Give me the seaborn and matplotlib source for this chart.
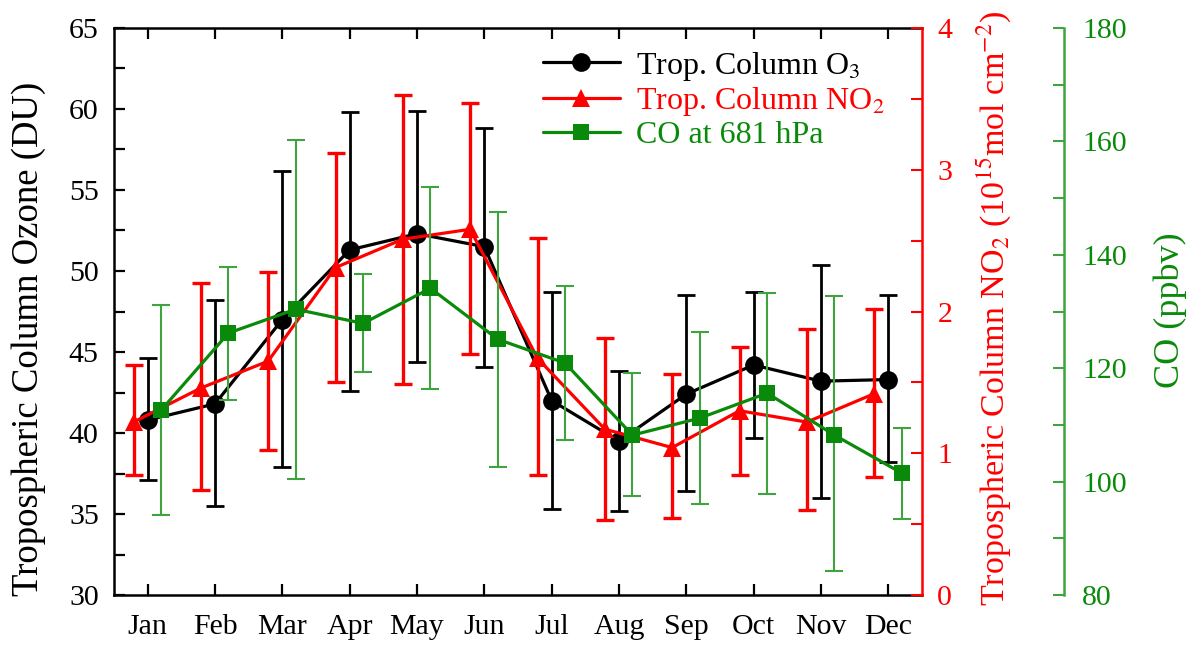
import numpy as np
import pandas as pd
import matplotlib
matplotlib.use("Agg")
import matplotlib.pyplot as plt
from matplotlib.ticker import MultipleLocator
import seaborn as sns

# Monthly climatology: tropospheric O3 column, tropospheric NO2 column, CO at 681 hPa
months = ["Jan", "Feb", "Mar", "Apr", "May", "Jun",
          "Jul", "Aug", "Sep", "Oct", "Nov", "Dec"]

o3_mean = [40.8, 41.8, 47.0, 51.3, 52.3, 51.5, 42.0, 39.5, 42.4, 44.2, 43.2, 43.3]
o3_low = [37.1, 35.5, 37.9, 42.6, 44.4, 44.1, 35.3, 35.2, 36.4, 39.7, 36.0, 38.2]
o3_high = [44.6, 48.2, 56.2, 59.8, 59.9, 58.8, 48.7, 43.8, 48.5, 48.7, 50.4, 48.5]

no2_mean = [1.22, 1.46, 1.65, 2.31, 2.51, 2.58, 1.67, 1.17, 1.04, 1.30, 1.22, 1.42]
no2_low = [0.85, 0.74, 1.02, 1.50, 1.49, 1.70, 0.85, 0.53, 0.54, 0.85, 0.60, 0.83]
no2_high = [1.62, 2.20, 2.28, 3.12, 3.53, 3.47, 2.52, 1.81, 1.56, 1.75, 1.88, 2.02]

co_mean = [112.6, 126.2, 130.4, 127.9, 134.1, 125.1, 120.9, 108.2, 111.2, 115.6, 108.2, 101.5]
co_low = [94.1, 114.4, 100.4, 119.3, 116.3, 102.5, 107.3, 97.5, 96.0, 97.8, 84.3, 93.4]
co_high = [131.1, 137.9, 160.2, 136.7, 152.0, 147.5, 134.5, 119.1, 126.4, 133.3, 132.8, 109.5]

labels = ["Trop. Column O$_3$", "Trop. Column NO$_2$", "CO at 681 hPa"]

BLACK = "#000000"
RED = "#ff0000"
GREEN = "#0a8a0a"
GREEN_LIGHT = "#3fa33f"

sns.set_theme(style="ticks")
plt.rcParams["font.family"] = ["Liberation Serif", "DejaVu Serif"]
plt.rcParams["mathtext.fontset"] = "stix"

month_num = np.arange(1, 13)
df = pd.DataFrame({
    "month": month_num,
    "o3": o3_mean, "o3_lo": o3_low, "o3_hi": o3_high,
    "no2": no2_mean, "no2_lo": no2_low, "no2_hi": no2_high,
    "co": co_mean, "co_lo": co_low, "co_hi": co_high,
})
df["x_o3"] = df["month"]
df["x_no2"] = df["month"] - 0.21
df["x_co"] = df["month"] + 0.20

fig = plt.figure(figsize=(11.86, 6.46), dpi=100)
ax = fig.add_axes([0.0961, 0.0789, 0.6813, 0.8778])
ax2 = ax.twinx()
ax3 = ax.twinx()
ax3.spines["right"].set_position(("axes", 1.1757))


def draw_series(axis, xcol, ycol, lo, hi, color, ecolor, marker, msize, elw):
    axis.errorbar(df[xcol], df[ycol],
                  yerr=[df[ycol] - df[lo], df[hi] - df[ycol]],
                  fmt="none", ecolor=ecolor, elinewidth=elw,
                  capsize=6.5, capthick=elw, zorder=2)
    sns.lineplot(data=df, x=xcol, y=ycol, ax=axis, color=color,
                 marker=marker, markersize=msize, markeredgecolor=color,
                 markeredgewidth=0, linewidth=2.3, zorder=3)
    return axis.lines[-1]


h_o3 = draw_series(ax, "x_o3", "o3", "o3_lo", "o3_hi", BLACK, BLACK, "o", 13.5, 2.0)
h_no2 = draw_series(ax2, "x_no2", "no2", "no2_lo", "no2_hi", RED, RED, "^", 12.5, 2.4)
h_co = draw_series(ax3, "x_co", "co", "co_lo", "co_hi", GREEN, GREEN_LIGHT, "s", 11, 1.5)

# Axis ranges and ticks
ax.set_xlim(0.5, 12.5)
ax.set_ylim(30, 65)
ax2.set_ylim(0, 4)
ax3.set_ylim(80, 180)

ax.set_xticks(month_num)
ax.set_xticklabels(months)
ax.yaxis.set_major_locator(MultipleLocator(5))
ax.yaxis.set_minor_locator(MultipleLocator(2.5))
ax2.yaxis.set_major_locator(MultipleLocator(1))
ax2.yaxis.set_minor_locator(MultipleLocator(0.5))
ax3.yaxis.set_major_locator(MultipleLocator(20))
ax3.yaxis.set_minor_locator(MultipleLocator(10))

for a in (ax, ax2, ax3):
    a.set_xlabel("")
    a.set_ylabel("")

ax.tick_params(axis="x", which="both", direction="in", top=True, bottom=True,
               length=8, width=1.6, labelsize=21.5, pad=14, color=BLACK,
               labelcolor=BLACK)
ax.tick_params(axis="y", which="both", direction="in", left=True, right=False,
               length=8, width=1.6, labelsize=21.5, pad=11, color=BLACK,
               labelcolor=BLACK)
ax2.tick_params(axis="y", which="both", direction="in", length=8, width=1.5,
                labelsize=21.5, pad=11, color=RED, labelcolor=RED)
ax3.tick_params(axis="y", which="both", direction="in", length=8, width=1.5,
                labelsize=21.5, pad=13, color=GREEN_LIGHT, labelcolor=GREEN)
ax.xaxis.set_tick_params(which="minor", bottom=False, top=False)

# Spines
for side in ("left", "top", "bottom"):
    ax.spines[side].set_color(BLACK)
    ax.spines[side].set_linewidth(1.8)
ax.spines["right"].set_visible(False)
for a in (ax2, ax3):
    for side in ("left", "top", "bottom"):
        a.spines[side].set_visible(False)
ax2.spines["right"].set_color(RED)
ax2.spines["right"].set_linewidth(1.8)
ax3.spines["right"].set_color(GREEN_LIGHT)
ax3.spines["right"].set_linewidth(1.8)

# Axis titles
fig.text(0.0245, 0.475, "Tropospheric Column Ozone (DU)", rotation=90,
         ha="center", va="center", fontsize=26.5, color=BLACK)
fig.text(0.838, 0.523,
         r"Tropospheric Column NO$_2$ (10$^{15}$mol cm$^{-2}$)",
         rotation=90, ha="center", va="center", fontsize=24.5, color=RED)
fig.text(0.9865, 0.52, "CO (ppbv)", rotation=90, ha="center", va="center",
         fontsize=26, color=GREEN)

# Legend
for a in (ax, ax2, ax3):
    if a.get_legend() is not None:
        a.get_legend().remove()
leg = ax3.legend([h_o3, h_no2, h_co], labels, loc="upper left",
                 bbox_to_anchor=(0.531, 0.962), frameon=False, fontsize=23,
                 handlelength=2.4, handletextpad=0.5, labelspacing=0.08,
                 borderaxespad=0, borderpad=0)
for txt, col in zip(leg.get_texts(), [BLACK, RED, GREEN]):
    txt.set_color(col)

fig.savefig("out.png", dpi=100)
